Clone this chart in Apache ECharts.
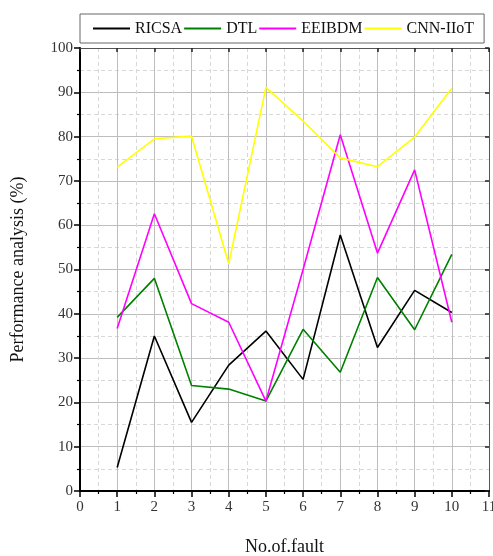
<!DOCTYPE html>
<html>
<head>
<meta charset="utf-8">
<script src="https://cdn.jsdelivr.net/npm/echarts@6/dist/echarts.min.js"></script>
<style>html,body{margin:0;padding:0;background:#fff}#c{width:493px;height:556px}</style>
</head>
<body>
<div id="c"></div>
<script>
var faults = [1, 2, 3, 4, 5, 6, 7, 8, 9, 10];
var ricsa = [5.3, 35, 15.5, 28.4, 36.1, 25.2, 57.8, 32.4, 45.3, 40.3];
var dtl = [39.2, 48, 23.8, 23, 20.3, 36.5, 26.8, 48.2, 36.4, 53.4];
var eeibdm = [36.7, 62.6, 42.3, 38.1, 20.3, 50, 80.4, 53.7, 72.5, 38.1];
var cnnIIoT = [73.1, 79.5, 80.1, 51.3, 91.1, 83.5, 75.2, 73.2, 79.9, 90.9];
var seriesNames = ['RICSA', 'DTL', 'EEIBDM', 'CNN-IIoT'];
var seriesColors = ['#000000', '#008000', '#ff00ff', '#ffff00'];
var seriesValues = [ricsa, dtl, eeibdm, cnnIIoT];

var font = '"Liberation Serif", "Times New Roman", serif';
var chart = echarts.init(document.getElementById('c'));
chart.setOption({
  animation: false,
  backgroundColor: '#fff',
  grid: { left: 80, right: 4, top: 48, bottom: 65, containLabel: false, outerBoundsMode: 'none' },
  legend: {
    left: 80, top: 14,
    padding: [6, 10, 6, 13],
    borderColor: '#666', borderWidth: 1,
    itemGap: 2, itemTextGap: 4,
    itemWidth: 37, itemHeight: 2, icon: 'rect',
    textStyle: { fontFamily: font, fontSize: 16, color: '#111', lineHeight: 17 },
    data: seriesNames
  },
  xAxis: [{
    type: 'value', min: 0, max: 11, interval: 1,
    name: 'No.of.fault', nameLocation: 'middle', nameGap: 47,
    nameTextStyle: { fontFamily: font, fontSize: 18, color: '#111' },
    axisLine: { show: true, onZero: false, lineStyle: { color: '#000', width: 2 } },
    axisTick: { show: true, inside: false, length: 6, lineStyle: { color: '#000', width: 1.5 } },
    minorTick: { show: true, splitNumber: 2, length: 3, lineStyle: { color: '#000', width: 1.2 } },
    axisLabel: { fontFamily: font, fontSize: 15, color: '#333', margin: 9, showMaxLabel: true },
    splitLine: { show: true, lineStyle: { color: '#bdbdbd', width: 1 } },
    minorSplitLine: { show: true, lineStyle: { color: '#d8d8d8', width: 1, type: [4, 3] } }
  }, {
    type: 'value', min: 0, max: 11, interval: 1, position: 'top',
    axisLine: { show: true, onZero: false, lineStyle: { color: '#555', width: 1 } },
    axisTick: { show: true, inside: true, length: 4, lineStyle: { color: '#222', width: 1.5 } },
    axisLabel: { show: false }, splitLine: { show: false }
  }],
  yAxis: [{
    type: 'value', min: 0, max: 100, interval: 10,
    name: 'Performance analysis (%)', nameLocation: 'middle', nameGap: 53,
    nameTextStyle: { fontFamily: font, fontSize: 18, color: '#111' },
    axisLine: { show: true, onZero: false, lineStyle: { color: '#000', width: 2 } },
    axisTick: { show: true, inside: false, length: 6, lineStyle: { color: '#000', width: 1.5 } },
    minorTick: { show: true, splitNumber: 2, length: 3, lineStyle: { color: '#000', width: 1.2 } },
    axisLabel: { fontFamily: font, fontSize: 15, color: '#333', margin: 7 },
    splitLine: { show: true, lineStyle: { color: '#bdbdbd', width: 1 } },
    minorSplitLine: { show: true, lineStyle: { color: '#d8d8d8', width: 1, type: [4, 3] } }
  }, {
    type: 'value', min: 0, max: 100, interval: 10, position: 'right',
    axisLine: { show: true, onZero: false, lineStyle: { color: '#555', width: 1 } },
    axisTick: { show: true, inside: true, length: 4, lineStyle: { color: '#222', width: 1.5 } },
    axisLabel: { show: false }, splitLine: { show: false }
  }],
  series: seriesNames.map(function (n, i) {
    return {
      name: n, type: 'line', xAxisIndex: 0, yAxisIndex: 0,
      symbol: 'none', color: seriesColors[i],
      lineStyle: { color: seriesColors[i], width: 1.6 },
      data: faults.map(function (f, j) { return [f, seriesValues[i][j]]; })
    };
  })
});
</script>
</body>
</html>
